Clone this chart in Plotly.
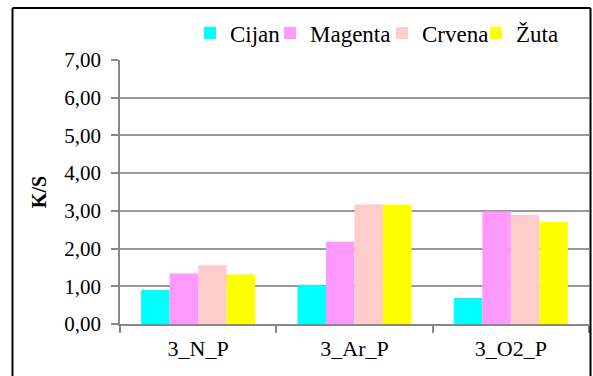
import plotly.graph_objects as go

categories = ["3_N_P", "3_Ar_P", "3_O2_P"]
cijan = [0.90, 1.03, 0.69]
magenta = [1.34, 2.18, 2.98]
crvena = [1.56, 3.17, 2.89]
zuta = [1.31, 3.17, 2.71]
series_names = ["Cijan", "Magenta", "Crvena", "Žuta"]
colors = ["#00FFFF", "#FF99FF", "#FFCCCC", "#FFFF00"]
y_ticks = [0, 1, 2, 3, 4, 5, 6, 7]

font_family = "Liberation Serif"

W, H = 593, 376
L, R, T, B = 120, 4, 60, 52
pw = W - L - R
ph = H - T - B

def px_x(p):
    return (p - L) / pw

def px_y(p):
    return (H - B - p) / ph

legend_ids = ["legend", "legend2", "legend3", "legend4"]
legend_left_px = [190, 270, 382, 476]

fig = go.Figure()
for name, vals, col, lid in zip(series_names, [cijan, magenta, crvena, zuta], colors, legend_ids):
    fig.add_trace(go.Bar(x=categories, y=vals, name=name, marker_color=col,
                         marker_line_width=0, legend=lid))

legend_layout = {}
for lid, lx in zip(legend_ids, legend_left_px):
    legend_layout[lid] = dict(orientation="h", x=px_x(lx), y=px_y(33),
                              yanchor="middle", xanchor="left",
                              font=dict(size=23, family=font_family),
                              itemwidth=30, bgcolor="rgba(0,0,0,0)")

fx0, fx1, fy_top, fy_bot = px_x(12.5), px_x(590.5), px_y(8), px_y(390)
frame_line = dict(color="black", width=2)
frame = [
    dict(type="line", xref="paper", yref="paper", x0=fx0, x1=fx1, y0=fy_top, y1=fy_top, line=frame_line, layer="above"),
    dict(type="line", xref="paper", yref="paper", x0=fx0, x1=fx0, y0=fy_bot, y1=fy_top, line=frame_line, layer="above"),
    dict(type="line", xref="paper", yref="paper", x0=fx1, x1=fx1, y0=fy_bot, y1=fy_top, line=frame_line, layer="above"),
]

fig.update_layout(
    width=W, height=H,
    margin=dict(l=L, r=R, t=T, b=B),
    paper_bgcolor="white", plot_bgcolor="white",
    barmode="group", bargap=0.27, bargroupgap=0,
    separators=", ",
    font=dict(family=font_family, size=21, color="black"),
    showlegend=True,
    xaxis=dict(showline=True, linecolor="#888888", linewidth=1.5,
               ticks="outside", tickson="boundaries", ticklen=7,
               tickcolor="#888888", tickwidth=1.5, ticklabelstandoff=4,
               tickfont=dict(size=22, family=font_family)),
    yaxis=dict(range=[0, 7], tickvals=y_ticks, tickformat=".2f",
               showline=True, linecolor="#888888", linewidth=1.5,
               ticks="outside", ticklen=7, tickcolor="#888888", tickwidth=1.5,
               showgrid=True, gridcolor="#999999", gridwidth=1.5,
               ticklabelstandoff=6,
               tickfont=dict(size=21, family=font_family),
               title=dict(text="<b>K/S</b>", standoff=12,
                          font=dict(size=20, family=font_family))),
    shapes=frame,
    **legend_layout,
)

fig.write_html("out.html", config={"displayModeBar": False},
               post_script="document.body.style.margin='0';document.body.style.padding='0';"
                           "document.documentElement.style.overflow='hidden';window.scrollTo(0,0);")
